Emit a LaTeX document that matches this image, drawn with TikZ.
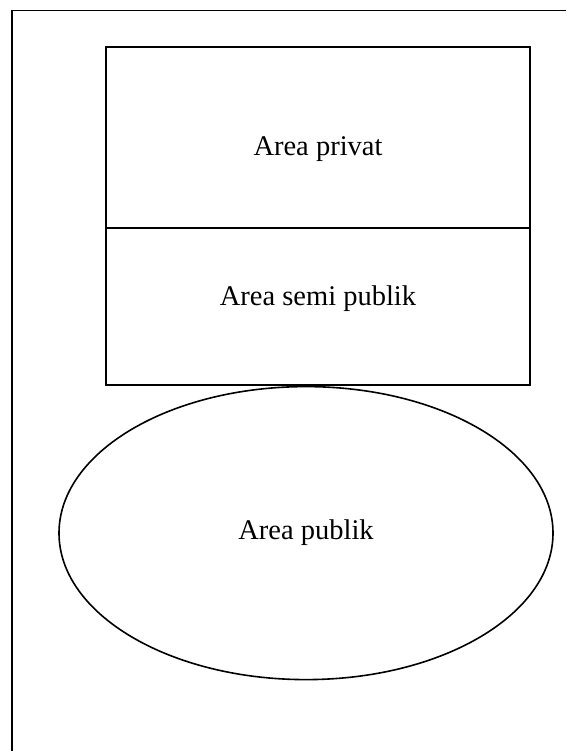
\documentclass[tikz,border=0pt]{standalone}
\usepackage{fontspec}
\setmainfont{Liberation Serif}
\usetikzlibrary{shapes.geometric, positioning, calc}

\tikzset{
  zone/.style={draw, line width=1.6pt, minimum width=424pt, inner sep=0pt},
  zonetext/.style={font=\fontsize{28.5}{34}\selectfont, inner sep=0pt}
}

\begin{document}
\begin{tikzpicture}[x=1pt, y=-1pt]
  \useasboundingbox (0,0) rectangle (566,751);
  % --- Outer frame (only top and left edge shown) ---
  \coordinate (fbl) at (12,751);
  \coordinate (ftl) at (12,10.5);
  \coordinate (ftr) at (566,10.5);
  \draw[line width=1.3pt] (fbl) -- (ftl) -- (ftr);
  % --- Boxes ---
  \node[zone, minimum height=181pt] (privat) at (318,137.5) {};
  \node[zone, minimum height=157pt, below=-1.6pt of privat] (semi) {};
  % --- Ellipse ---
  \node[draw, ellipse, line width=1.6pt, minimum width=494pt, minimum height=293pt,
        inner sep=0pt, below=0pt of semi.south, xshift=-12pt] (publik) {};
  % --- Labels ---
  \node[zonetext] (tprivat) at ($(privat.center)+(0,12)$) {Area privat};
  \node[zonetext] (tsemi) at ($(semi.center)+(0,-8)$) {Area semi publik};
  \node[zonetext] (tpublik) at (publik.center) {Area publik};
\end{tikzpicture}
\end{document}
